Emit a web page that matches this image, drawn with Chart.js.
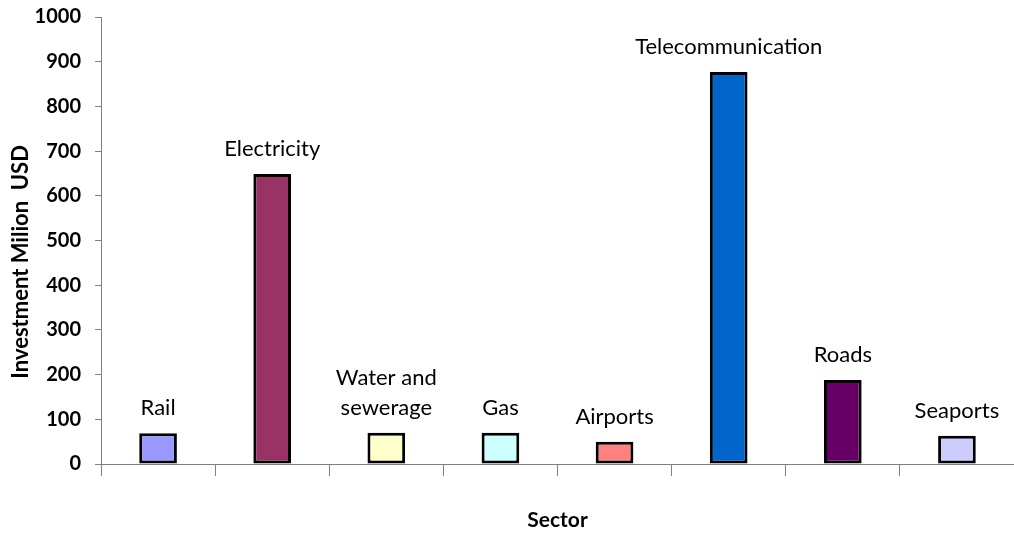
<!DOCTYPE html>
<html>
<head>
<meta charset="utf-8">
<script src="https://cdn.jsdelivr.net/npm/chart.js@4"></script>
<style>
  html, body { margin: 0; padding: 0; background: #fff; }
  #wrap { width: 1014px; height: 533px; }
</style>
</head>
<body>
<div id="wrap"><canvas id="chart"></canvas></div>
<script>
(function () {
    'use strict';

    const sectors = ['Rail', 'Electricity', ['Water and', 'sewerage'], 'Gas', 'Airports', 'Telecommunication', 'Roads', 'Seaports'];
    const investment = [69, 649, 70, 70, 50, 877, 188, 63];
    const barColors = ['#9999FF', '#993366', '#FFFFCC', '#CCFFFF', '#FF8080', '#0066CC', '#660066', '#CCCCFF'];
    const yTicks = [0, 100, 200, 300, 400, 500, 600, 700, 800, 900, 1000];

    const FONT = 'Lato, "Open Sans", sans-serif';
    const AXIS = '#808080';

    // sector names drawn above each bar
    const barLabels = {
        id: 'barLabels',
        afterDatasetsDraw(chart) {
            const ctx = chart.ctx;
            const meta = chart.getDatasetMeta(0);
            ctx.save();
            ctx.font = '22px ' + FONT;
            ctx.fillStyle = '#000';
            ctx.textAlign = 'center';
            ctx.textBaseline = 'middle';
            meta.data.forEach((bar, i) => {
                const lines = [].concat(sectors[i]);
                lines.forEach((t, j) => {
                    const y = bar.y - 25 - (lines.length - 1 - j) * 30;
                    ctx.fillText(t, bar.x, y);
                });
            });
            ctx.restore();
        }
    };

    new Chart(document.getElementById('chart'), {
        type: 'bar',
        data: {
            labels: sectors,
            datasets: [{
                data: investment,
                backgroundColor: barColors,
                borderColor: '#000',
                borderWidth: 3,
                borderSkipped: false,
                barPercentage: 0.33,
                categoryPercentage: 1
            }]
        },
        options: {
            responsive: true,
            maintainAspectRatio: false,
            animation: false,
            layout: { padding: 0 },
            plugins: {
                legend: { display: false },
                tooltip: { enabled: false }
            },
            scales: {
                x: {
                    offset: true,
                    afterFit: s => { s.height = 69; },
                    grid: {
                        offset: true,
                        drawOnChartArea: false,
                        tickLength: 12,
                        color: AXIS
                    },
                    border: { color: AXIS, width: 1 },
                    ticks: { display: false },
                    title: {
                        display: true,
                        text: 'Sector',
                        color: '#000',
                        font: { family: FONT, size: 21, weight: 'bold' },
                        padding: { top: 0, bottom: 0 }
                    }
                },
                y: {
                    min: 0,
                    max: 1000,
                    afterFit: s => {
                        s.width = 101;
                        s.paddingTop = 17; // tick padding would otherwise push the top down
                    },
                    afterBuildTicks: s => { s.ticks = yTicks.map(v => ({ value: v })); },
                    grid: {
                        drawOnChartArea: false,
                        tickLength: 6,
                        color: AXIS
                    },
                    border: { color: AXIS, width: 1 },
                    ticks: {
                        color: '#000',
                        padding: 14,
                        callback: v => String(v),
                        font: { family: FONT, size: 20, weight: 'bold' }
                    },
                    title: {
                        display: true,
                        // trailing spaces push the centred title down a little, as in the original
                        text: 'Investment Milion  USD        ',
                        color: '#000',
                        font: { family: FONT, size: 22, weight: 'bold' },
                        padding: { top: 8, bottom: 0 }
                    }
                }
            }
        },
        plugins: [barLabels]
    });
})();
</script>
</body>
</html>
